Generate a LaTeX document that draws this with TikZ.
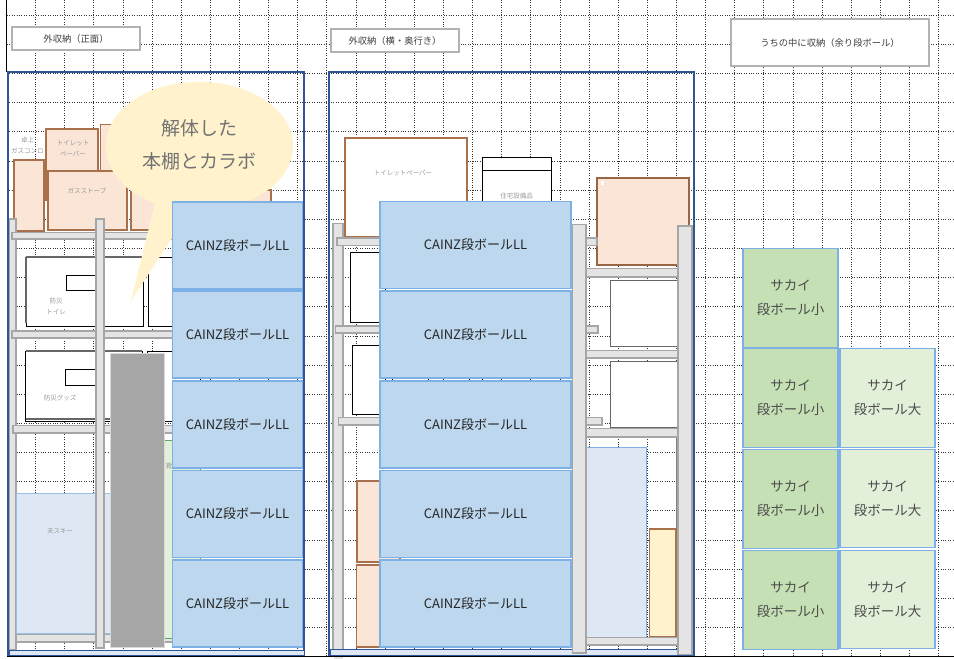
\documentclass[tikz,border=0pt]{standalone}
\usepackage{fontspec}
\setmainfont{Noto Sans CJK JP}
\definecolor{framecol}{HTML}{2F5597}
\definecolor{brownline}{HTML}{A9714B}
\definecolor{peach}{HTML}{FBE5D6}
\definecolor{bluebox}{HTML}{BDD7EE}
\definecolor{blueline}{HTML}{7DB0E4}
\definecolor{paleblue}{HTML}{DEE8F5}
\definecolor{darkgreen}{HTML}{C5E0B4}
\definecolor{palegreen}{HTML}{E2F0D9}
\definecolor{cream}{HTML}{FFF2CC}
\definecolor{barfill}{HTML}{E4E4E4}
\definecolor{barline}{HTML}{A6A6A6}
\tikzset{
	gridline/.style={dash pattern=on 1pt off 1.4pt,line width=0.9pt,black!80},
	titlebox/.style={draw=black!30,line width=1.3pt,fill=white,font=\fontsize{9.3}{11}\selectfont,text=black!75,inner sep=0pt},
	frameline/.style={draw=framecol,line width=2pt},
	shelfbar/.style={draw=barline,line width=1.1pt,fill=barfill},
	goods/.style={draw=brownline,line width=1.2pt,fill=peach},
	whitebox/.style={draw=black,line width=1pt,fill=white},
	tinylabel/.style={font=\fontsize{6.5}{11}\selectfont,text=black!40,align=center,inner sep=0pt},
	cainz/.style={draw=blueline,line width=1.3pt,fill=bluebox,minimum width=130pt,minimum height=87pt,inner sep=0pt,font=\fontsize{13}{15}\selectfont,text=black!85},
	sakai/.style={draw=blueline,line width=1.2pt,minimum width=95pt,minimum height=98.5pt,inner sep=0pt,align=center,font=\fontsize{13.5}{24}\selectfont,text=black!70},
}
\begin{document}
\begin{tikzpicture}[x=1pt,y=-1pt]
	\useasboundingbox (0,0) rectangle (954,659);
	\fill[white] (0,0) rectangle (954,659);
	\foreach \k in {1,...,32}
		\draw[gridline] ({6.5+29.13*\k},0) -- ({6.5+29.13*\k},656);
	\foreach \k in {0,...,22}
		\draw[gridline] (7,{15.3+29.15*\k}) -- (954,{15.3+29.15*\k});
	\draw[black,line width=1pt] (6.5,0) -- (6.5,72);
	\draw[black,line width=1pt] (7,656.5) -- (954,656.5);
	\node[titlebox,minimum width=128pt,minimum height=23pt] at (76,38.5) (title1) {外収納（正面）};
	\node[titlebox,minimum width=128pt,minimum height=23pt] at (395,40.5) (title2) {外収納（横・奥行き）};
	\node[titlebox,minimum width=198pt,minimum height=47pt] at (830,42.5) (title3) {うちの中に収納（余り段ボール）};
	\node[tinylabel] at (27.5,145.5) (stovelabel) {卓上\\ガスコンロ};
	\draw[goods] (14,160) rectangle (44,231);
	\draw[goods] (46,129) rectangle (98,200);
	\draw[goods] (100.5,124.5) rectangle (150,172);
	\draw[goods] (131,190) rectangle (271,230);
	\draw[goods] (48,171) rectangle (127,230);
	\node[tinylabel] at (73,148) (paperlabel) {トイレット\\ペーパー};
	\node[tinylabel] at (87,191) (gaslabel) {ガスストーブ};
	\draw[shelfbar] (9,219) rectangle (16,650);
	\draw[shelfbar] (12,232.5) rectangle (200,239);
	\draw[whitebox] (26,257) rectangle (143,326);
	\draw[black!60,line width=1.5pt] (26,257) -- (143,257) (26,257) -- (26,323);
	\draw[whitebox] (66,275.5) rectangle (100,290);
	\draw[whitebox] (148,257) rectangle (200,326);
	\node[tinylabel] at (56,306) (toiletlabel) {防災\\トイレ};
	\draw[shelfbar] (12,331) rectangle (200,338);
	\draw[whitebox] (25.5,351) rectangle (142,421);
	\draw[black!60,line width=1.5pt] (25.5,351) -- (142,351) (25.5,419) -- (142,419);
	\draw[whitebox] (65.5,369.5) rectangle (100,385);
	\draw[whitebox] (147,351) rectangle (200,421);
	\node[tinylabel] at (60,398) (goodslabel) {防災グッズ};
	\draw[shelfbar] (13,425.5) rectangle (200,433);
	\draw[shelfbar] (16,634) rectangle (200,642);
	\draw[draw=black!60!green!60,line width=1pt,fill=palegreen] (164,440.5) rectangle (200,638.5);
	\node[tinylabel] at (169,466) (greenlabel) {靴};
	\draw[black,line width=1pt] (108,568) -- (108,628);
	\draw[draw=blueline!80,line width=1pt,fill=paleblue] (16.5,493) rectangle (110,633);
	\node[tinylabel] at (60,531.5) (skilabel) {夫スキー};
	\draw[shelfbar] (96,219) rectangle (104,648);
	\draw[draw=black!15,line width=1pt,fill=black!35] (110,353) rectangle (164,647);
	\draw[frameline] (7.5,72) rectangle (303.5,655);
	\draw[frameline,fill=paleblue,line width=1pt] (9,650) rectangle (304,655.5);
	\draw[fill=cream,draw=none] (105.9,146) .. controls (105.9,110) and (147,81.9) .. (199,81.9)
		.. controls (251,81.9) and (293,110) .. (293,146)
		.. controls (293,182) and (251,210.5) .. (199,210.5)
		.. controls (195,210.5) and (192,210.5) .. (190,210.5)
		-- (131,301) -- (155,203)
		.. controls (125,193) and (105.9,171) .. (105.9,146) -- cycle;
	\node[inner sep=0pt,align=center,text=black!55,font=\fontsize{19}{33}\selectfont] at (199,145) (bubble) {解体した\\本棚とカラボ};
	\node[cainz] at (237.5,245.5) (a1) {CAINZ段ボールLL};
	\node[cainz] at (237.5,334.5) (a2) {CAINZ段ボールLL};
	\node[cainz] at (237.5,424.5) (a3) {CAINZ段ボールLL};
	\node[cainz] at (237.5,514) (a4) {CAINZ段ボールLL};
	\node[cainz] at (237.5,603.5) (a5) {CAINZ段ボールLL};
	\draw[goods,fill=white] (345,138) rectangle (467,237);
	\node[tinylabel] at (403,173) (paperlabel2) {トイレットペーパー};
	\draw[whitebox] (482,157) rectangle (551,170);
	\draw[whitebox] (482,170) rectangle (551,205);
	\node[tinylabel] at (516.5,196.5) (housinglabel) {住宅設備品};
	\draw[goods,draw=brownline!90!black] (597,178) rectangle (689,265);
	\fill[white] (601,181) rectangle (604,185);
	\draw[shelfbar] (333,223.5) rectangle (343,650);
	\draw[shelfbar] (337,238) rectangle (597,245.5);
	\draw[whitebox] (350,252.5) rectangle (385,322);
	\draw[shelfbar] (335.5,326) rectangle (598,333);
	\draw[whitebox] (352.5,345) rectangle (385,414);
	\draw[whitebox] (392,300) rectangle (428,384);
	\draw[whitebox] (469,300) rectangle (482,384);
	\draw[shelfbar] (338.5,417.5) rectangle (602,425);
	\draw[goods] (357,481) rectangle (400,562);
	\draw[goods] (356.5,565) rectangle (400,647);
	\draw[frameline] (328.5,72) rectangle (694,655);
	\draw[frameline,fill=paleblue,line width=1pt] (330,649.5) rectangle (678,655.5);
	\fill[barfill] (333.5,656.5) rectangle (343,660);
	\draw[black!50,line width=0.8pt] (676.5,437) -- (676.5,637);
	\draw[shelfbar] (586,268.5) rectangle (678,277);
	\draw[whitebox,draw=black!60] (610.5,280.5) rectangle (680,346);
	\draw[shelfbar] (586,350.5) rectangle (678,358);
	\draw[whitebox,draw=black!60] (610.5,361) rectangle (680,427);
	\draw[shelfbar] (586,428.5) rectangle (678,437);
	\draw[draw=blueline,line width=0.8pt,fill=paleblue] (586,447.5) rectangle (646.5,637);
	\draw[goods,fill=cream] (649.5,529) rectangle (676,637);
	\draw[shelfbar] (586,637.5) rectangle (678,645);
	\node[cainz,minimum width=191pt] at (475.5,245) (b1) {CAINZ段ボールLL};
	\node[cainz,minimum width=191pt] at (475.5,334.5) (b2) {CAINZ段ボールLL};
	\node[cainz,minimum width=191pt] at (475.5,424.5) (b3) {CAINZ段ボールLL};
	\node[cainz,minimum width=191pt] at (475.5,514) (b4) {CAINZ段ボールLL};
	\node[cainz,minimum width=191pt] at (475.5,603.5) (b5) {CAINZ段ボールLL};
	\draw[shelfbar] (572.5,224.5) rectangle (586,653);
	\draw[shelfbar] (678,226) rectangle (692,654.5);
	\node[sakai,fill=darkgreen] at (790.5,298) (s1) {サカイ\\段ボール小};
	\node[sakai,fill=darkgreen] at (790.5,398) (s2) {サカイ\\段ボール小};
	\node[sakai,fill=darkgreen] at (790.5,499) (s3) {サカイ\\段ボール小};
	\node[sakai,fill=darkgreen] at (790.5,600) (s4) {サカイ\\段ボール小};
	\node[sakai,fill=palegreen] at (887.5,398) (l1) {サカイ\\段ボール大};
	\node[sakai,fill=palegreen] at (887.5,498.5) (l2) {サカイ\\段ボール大};
	\node[sakai,fill=palegreen] at (887.5,599.5) (l3) {サカイ\\段ボール大};
\end{tikzpicture}
\end{document}
